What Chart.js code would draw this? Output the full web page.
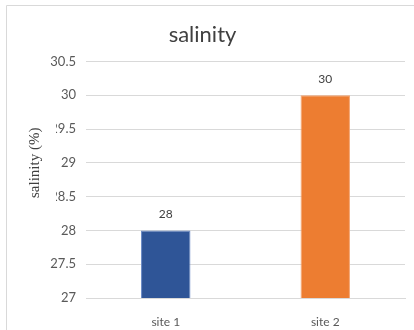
<!DOCTYPE html>
<html>
<head>
<meta charset="utf-8">
<script src="https://cdn.jsdelivr.net/npm/chart.js@4"></script>
<style>
  body { margin: 0; background: #fff; }
  #wrap { width: 414px; height: 330px; }
</style>
</head>
<body>
<div id="wrap"><canvas id="plot"></canvas></div>
<script>
const sites = ['site 1', 'site 2'];
const salinity = [28, 30];
const barColors = ['#2F5597', '#ED7D31'];
const barEdges = ['#6A8AC6', '#F4A470'];
const yTitle = 'salinity (%)';

// light frame round the chart, top and left edge
const frame = {
  id: 'frame',
  beforeDraw(chart) {
    const c = chart.ctx;
    c.save();
    c.strokeStyle = '#d9d9d9';
    c.lineWidth = 1;
    c.beginPath();
    c.moveTo(6.5, 330);
    c.lineTo(6.5, 5.5);
    c.lineTo(414, 5.5);
    c.stroke();
    c.restore();
  }
};

// value above each bar
const barValues = {
  id: 'barValues',
  afterDatasetsDraw(chart) {
    const c = chart.ctx;
    const meta = chart.getDatasetMeta(0);
    c.save();
    c.font = '12px Lato';
    c.fillStyle = '#404040';
    c.textAlign = 'center';
    c.textBaseline = 'middle';
    meta.data.forEach((bar, i) => {
      c.fillText(String(salinity[i]), bar.x, bar.y - 16);
    });
    c.restore();
  }
};

// y axis title sits on a white box that overlaps the tick labels
const yAxisTitle = {
  id: 'yAxisTitle',
  afterDraw(chart) {
    const c = chart.ctx;
    const y = chart.scales.y;
    const cy = (y.getPixelForValue(28.5) + y.getPixelForValue(29.5)) / 2;
    c.save();
    c.fillStyle = '#fff';
    c.fillRect(14, cy - 40, 42, 80);
    c.translate(35, cy);
    c.rotate(-Math.PI / 2);
    c.font = '15px "Liberation Serif"';
    c.fillStyle = '#404040';
    c.textAlign = 'center';
    c.textBaseline = 'middle';
    c.fillText(yTitle, 0, 0);
    c.restore();
  }
};

const data = {
  labels: sites,
  datasets: [{
    label: 'salinity',
    data: salinity,
    backgroundColor: barColors,
    borderColor: barEdges,
    borderWidth: 1,
    categoryPercentage: 1,
    barPercentage: 0.31
  }]
};

const config = {
  type: 'bar',
  data: data,
  options: {
    responsive: true,
    maintainAspectRatio: false,
    animation: false,
    layout: { padding: { top: 0, right: 9, left: 0, bottom: 0 } },
    plugins: {
      legend: { display: false },
      tooltip: { enabled: false },
      title: {
        display: true,
        text: 'salinity',
        color: '#404040',
        font: { family: 'Lato', size: 22, weight: 'normal' },
        padding: { top: 22, bottom: 13 }
      }
    },
    scales: {
      x: {
        grid: { display: false },
        border: { color: '#d9d9d9', width: 1 },
        ticks: { color: '#595959', font: { family: 'Lato', size: 12 }, padding: 9 },
        afterFit(scale) { scale.height = 32; }
      },
      y: {
        min: 27,
        max: 30.5,
        border: { display: false },
        grid: { color: '#d9d9d9', drawTicks: false },
        ticks: {
          stepSize: 0.5,
          color: '#595959',
          font: { family: 'Lato', size: 13 },
          padding: 10,
          callback: (v) => String(v)
        },
        afterFit(scale) { scale.width = 86; }
      }
    }
  },
  plugins: [frame, barValues, yAxisTitle]
};

let ctx = document.getElementById('plot').getContext('2d');
let chart = new Chart(ctx, config);
</script>
</body>
</html>
